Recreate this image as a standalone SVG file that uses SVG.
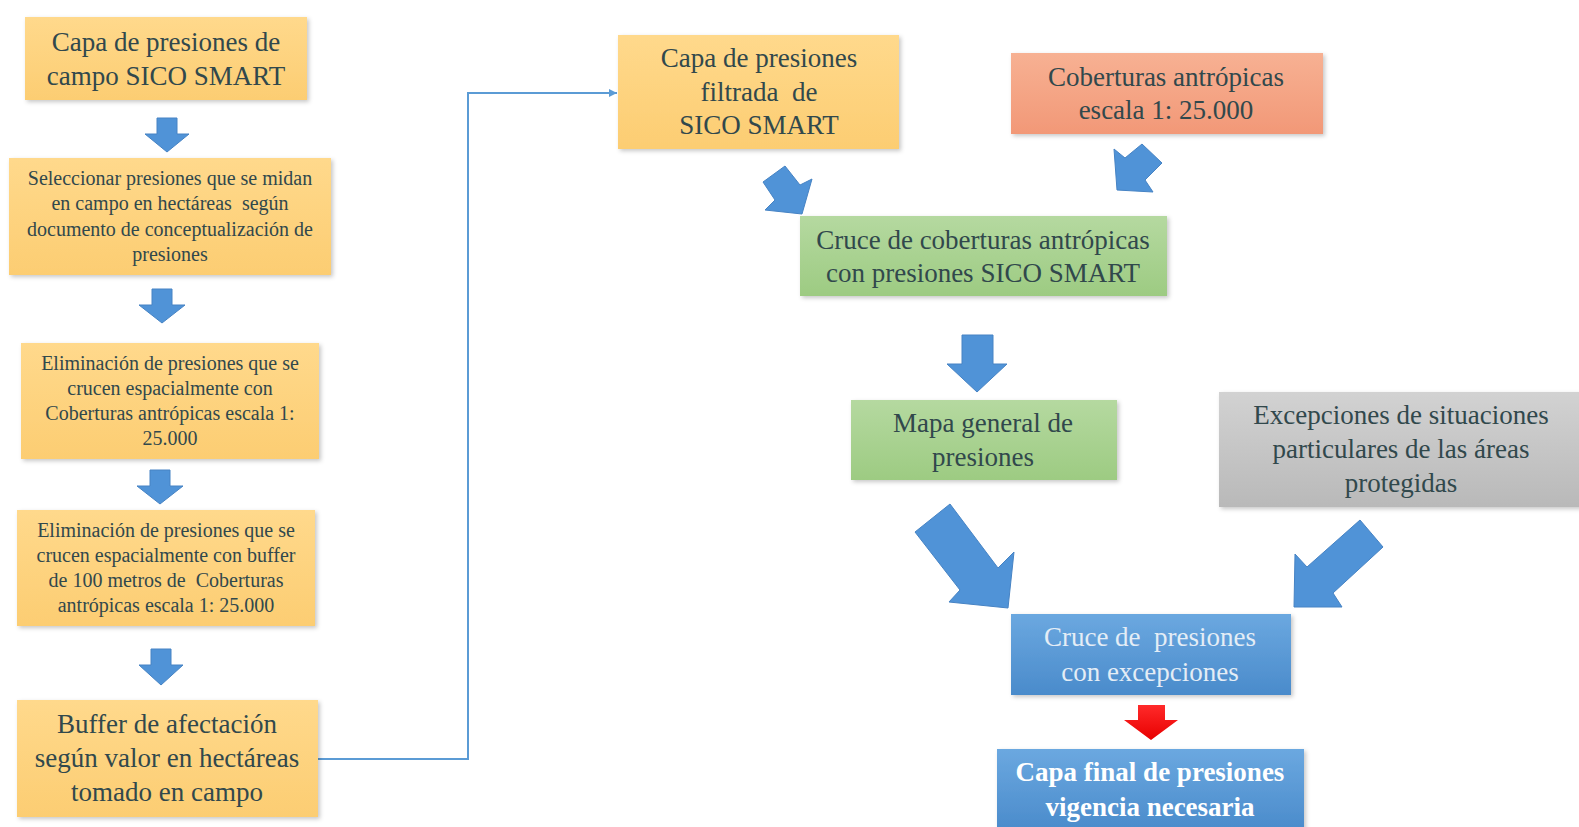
<svg xmlns="http://www.w3.org/2000/svg" width="1579" height="827" viewBox="0 0 1579 827">
<style>
.t{font-family:"Liberation Serif","Times New Roman",serif;fill:#31484C;text-anchor:middle;white-space:pre}
.big{font-size:27px}
.sm{font-size:20px}
.arr{fill:#5093D7;stroke:#4683C4;stroke-width:1}
.box{filter:url(#sh)}
.conn{fill:none;stroke:#5B9BD5;stroke-width:2}
</style>
<defs>
<filter id="sh" x="-10%" y="-10%" width="125%" height="130%">
<feDropShadow dx="2" dy="2" stdDeviation="2" flood-color="#000" flood-opacity="0.22"/>
</filter>
<linearGradient id="gO" x1="0" y1="0" x2="0" y2="1"><stop offset="0" stop-color="#FFD98C"/><stop offset="1" stop-color="#FCCD72"/></linearGradient>
<linearGradient id="gS" x1="0" y1="0" x2="0" y2="1"><stop offset="0" stop-color="#F7B193"/><stop offset="1" stop-color="#F29877"/></linearGradient>
<linearGradient id="gG" x1="0" y1="0" x2="0" y2="1"><stop offset="0" stop-color="#B5D9A0"/><stop offset="1" stop-color="#9DCB82"/></linearGradient>
<linearGradient id="gY" x1="0" y1="0" x2="0" y2="1"><stop offset="0" stop-color="#D2D2D2"/><stop offset="1" stop-color="#B9B9B9"/></linearGradient>
<linearGradient id="gB" x1="0" y1="0" x2="0" y2="1"><stop offset="0" stop-color="#6BA8E0"/><stop offset="1" stop-color="#4A8BCB"/></linearGradient>
<linearGradient id="gR" x1="0" y1="0" x2="0" y2="1"><stop offset="0" stop-color="#FF2A2A"/><stop offset="1" stop-color="#E80000"/></linearGradient>
<marker id="ah" viewBox="0 0 10 10" refX="10" refY="5" markerWidth="4" markerHeight="4" orient="auto" markerUnits="strokeWidth">
<path d="M0,0 L10,5 L0,10 z" fill="#5B9BD5"/>
</marker>
</defs>
<rect width="1579" height="827" fill="#FFFFFF"/>

<g id="connectors">
<polyline class="conn" points="318,759 468,759 468,93 617,93" marker-end="url(#ah)"/>
<polygon class="arr" points="157,118 177,118 177,134 189,134 167,152 145,134 157,134"/>
<polygon class="arr" points="152,289 172,289 172,305 185,305 162,323 139,305 152,305"/>
<polygon class="arr" points="150,470 170,470 170,486 183,486 160,504 137,486 150,486"/>
<polygon class="arr" points="151,649 171,649 171,665 183,665 161,685 139,665 151,665"/>
<polygon class="arr" points="785,166 763,182 775,200 765,210 802,214 812,179 800,185"/>
<polygon class="arr" points="1142,144 1162,163 1145,180 1153,192 1117,190 1114,149 1125,158"/>
<polygon class="arr" points="962,335 993,335 993,364 1007,364 977,392 947,364 962,364"/>
<polygon class="arr" points="950,504 915,532 960,590 949,602 1008,608 1014,552 998,568"/>
<polygon class="arr" points="1360,520 1383,547 1333,593 1342,607 1294,607 1295,554 1307,567"/>
<polygon points="1138,705 1165,705 1165,720 1178,720 1151,740 1124,720 1138,720" fill="url(#gR)"/>
</g>

<g id="n1">
<rect class="box" x="25" y="17" width="282" height="83" fill="url(#gO)"/>
<text class="t big" x="166" y="51">Capa de presiones de</text>
<text class="t big" x="166" y="85">campo SICO SMART</text>
</g>
<g id="n2">
<rect class="box" x="9" y="158" width="322" height="117" fill="url(#gO)"/>
<text class="t sm" x="170" y="185">Seleccionar presiones que se midan</text>
<text class="t sm" x="170" y="210">en campo en hectáreas  según</text>
<text class="t sm" x="170" y="236">documento de conceptualización de</text>
<text class="t sm" x="170" y="261">presiones</text>
</g>
<g id="n3">
<rect class="box" x="21" y="343" width="298" height="116" fill="url(#gO)"/>
<text class="t sm" x="170" y="370">Eliminación de presiones que se</text>
<text class="t sm" x="170" y="395">crucen espacialmente con</text>
<text class="t sm" x="170" y="420">Coberturas antrópicas escala 1:</text>
<text class="t sm" x="170" y="445">25.000</text>
</g>
<g id="n4">
<rect class="box" x="17" y="510" width="298" height="116" fill="url(#gO)"/>
<text class="t sm" x="166" y="537">Eliminación de presiones que se</text>
<text class="t sm" x="166" y="562">crucen espacialmente con buffer</text>
<text class="t sm" x="166" y="587">de 100 metros de  Coberturas</text>
<text class="t sm" x="166" y="612">antrópicas escala 1: 25.000</text>
</g>
<g id="n5">
<rect class="box" x="17" y="700" width="301" height="117" fill="url(#gO)"/>
<text class="t big" x="167" y="733">Buffer de afectación</text>
<text class="t big" x="167" y="767">según valor en hectáreas</text>
<text class="t big" x="167" y="801">tomado en campo</text>
</g>
<g id="n6">
<rect class="box" x="618" y="35" width="281" height="114" fill="url(#gO)"/>
<text class="t big" x="759" y="67">Capa de presiones</text>
<text class="t big" x="759" y="101">filtrada  de</text>
<text class="t big" x="759" y="134">SICO SMART</text>
</g>
<g id="n7">
<rect class="box" x="1011" y="53" width="312" height="81" fill="url(#gS)"/>
<text class="t big" x="1166" y="86">Coberturas antrópicas</text>
<text class="t big" x="1166" y="119">escala 1: 25.000</text>
</g>
<g id="n8">
<rect class="box" x="800" y="216" width="367" height="80" fill="url(#gG)"/>
<text class="t big" x="983" y="249">Cruce de coberturas antrópicas</text>
<text class="t big" x="983" y="282">con presiones SICO SMART</text>
</g>
<g id="n9">
<rect class="box" x="851" y="400" width="266" height="80" fill="url(#gG)"/>
<text class="t big" x="983" y="432">Mapa general de</text>
<text class="t big" x="983" y="466">presiones</text>
</g>
<g id="n10">
<rect class="box" x="1219" y="392" width="362" height="115" fill="url(#gY)"/>
<text class="t big" x="1401" y="424">Excepciones de situaciones</text>
<text class="t big" x="1401" y="458">particulares de las áreas</text>
<text class="t big" x="1401" y="492">protegidas</text>
</g>
<g id="n11">
<rect class="box" x="1011" y="614" width="280" height="81" fill="url(#gB)"/>
<text class="t big" x="1150" y="646" style="fill:#E4EDF6">Cruce de  presiones</text>
<text class="t big" x="1150" y="681" style="fill:#E4EDF6">con excepciones</text>
</g>
<g id="n12">
<rect class="box" x="997" y="749" width="307" height="82" fill="url(#gB)"/>
<text class="t big" x="1150" y="781" style="fill:#FFFFFF;font-weight:bold">Capa final de presiones</text>
<text class="t big" x="1150" y="816" style="fill:#FFFFFF;font-weight:bold">vigencia necesaria</text>
</g>
</svg>
